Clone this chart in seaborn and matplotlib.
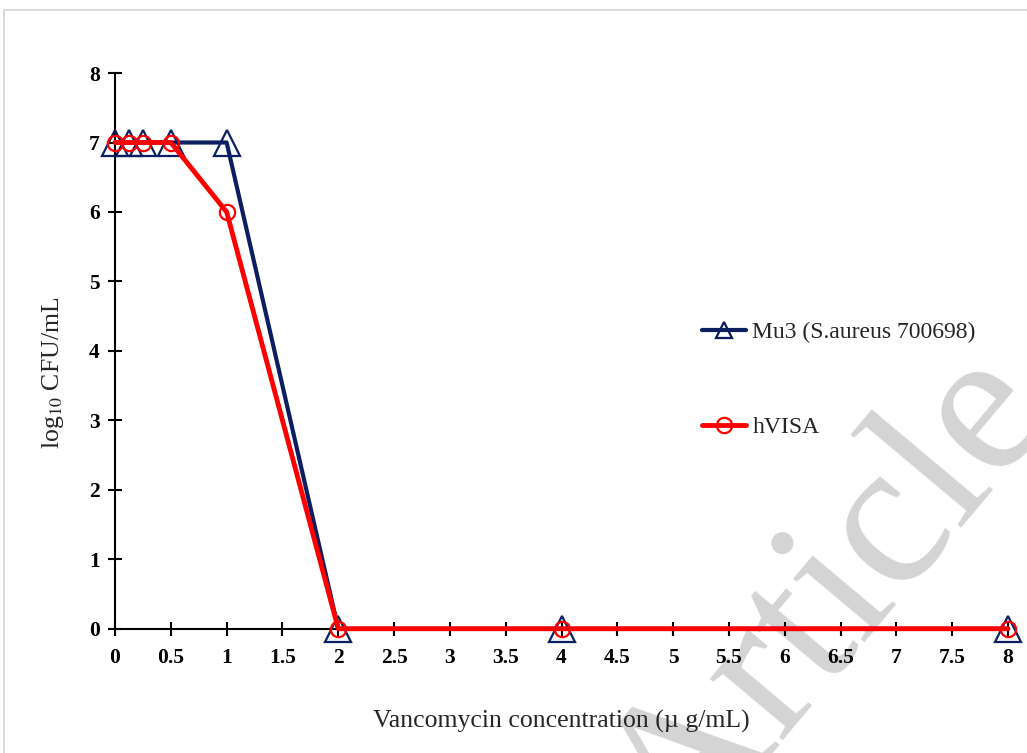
import pandas as pd
import numpy as np
import matplotlib.pyplot as plt
import seaborn as sns
from matplotlib.patches import Rectangle

# data
conc = [0, 0.125, 0.25, 0.5, 1, 2, 4, 8]
mu3 = [7, 7, 7, 7, 7, 0, 0, 0]
hvisa = [7, 7, 7, 7, 6, 0, 0, 0]
xticks = np.arange(0, 8.5, 0.5)
yticks = range(0, 9)

sns.set_style("ticks")
plt.rcParams['font.family'] = ['Liberation Serif', 'DejaVu Serif']
plt.rcParams['mathtext.fontset'] = 'stix'

fig = plt.figure(figsize=(10.27, 7.53), dpi=100)
ax = fig.add_axes([0.112, 0.165, 0.8695, 0.738])
ax.patch.set_alpha(0)

# page border
fig.patches.append(Rectangle((0.004, -0.01), 1.0, 0.997, transform=fig.transFigure,
                             fill=False, edgecolor='#d6d6d6', lw=1.2))

# watermark
fig.text(0.809, 0.199, "Article", rotation=50, fontsize=150, color='#d4d4d4',
         ha='center', va='center', zorder=-1, family='Liberation Serif')

sns.lineplot(x=conc, y=mu3, ax=ax, color='#0b1f60', lw=3, marker='^', markersize=19,
             markerfacecolor='none', markeredgecolor='#0b1f60', markeredgewidth=1.6,
             label='Mu3 (S.aureus 700698)', clip_on=False, zorder=3)
sns.lineplot(x=conc, y=hvisa, ax=ax, color='#ff0000', lw=3.5, marker='o', markersize=11,
             markerfacecolor='none', markeredgecolor='#ff0000', markeredgewidth=1.6,
             label='hVISA', clip_on=False, zorder=4)

ax.set_xlim(0, 8)
ax.set_ylim(0, 8)
ax.set_xticks(xticks)
ax.set_xticklabels([f"{t:g}" for t in xticks])
ax.set_yticks(list(yticks))
for s in ['top', 'right']:
    ax.spines[s].set_visible(False)
for s in ['left', 'bottom']:
    ax.spines[s].set_color('black')
    ax.spines[s].set_linewidth(1.5)
ax.tick_params(axis='both', direction='inout', length=10, width=1.5, colors='black',
               labelsize=15.5)
ax.tick_params(axis='x', pad=9)
ax.tick_params(axis='y', pad=6)
for lab in ax.get_xticklabels() + ax.get_yticklabels():
    lab.set_fontweight('bold')

ax.set_xlabel("Vancomycin concentration (\u00b5 g/mL)", fontsize=18.5, labelpad=30)
ax.set_ylabel("log$_{10}$ CFU/mL", fontsize=18.5)
ax.yaxis.set_label_coords(-0.055, 0.46)

leg = ax.legend(loc='upper left', bbox_to_anchor=(0.633, 0.591), frameon=False, fontsize=17,
                labelspacing=3.1, handlelength=1.9, handletextpad=0.25)
leg.legend_handles[0].set_markersize(11)

fig.savefig('out.png', dpi=100, facecolor='white')
